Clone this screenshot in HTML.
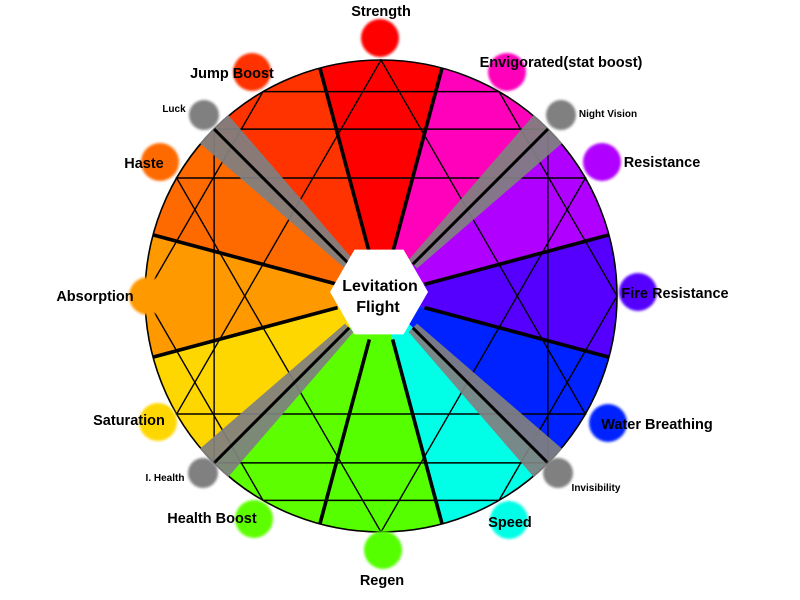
<!DOCTYPE html>
<html><head><meta charset="utf-8"><style>
html,body{margin:0;padding:0;background:#fff;width:800px;height:600px;overflow:hidden}
svg{display:block}
text{font-family:"Liberation Sans",sans-serif;fill:#000}
.lb{font-size:14.5px;font-weight:bold}
.sm{font-size:10px;font-weight:bold}
</style></head><body>
<svg id="chart" width="800" height="600" viewBox="0 0 800 600">
<defs><filter id="blur" x="-50%" y="-50%" width="200%" height="200%"><feGaussianBlur stdDeviation="1.4"/></filter>
<clipPath id="circ"><circle cx="381" cy="296" r="237"/></clipPath></defs>
<g id="sectors"></g>
<g id="grid"></g>
<g id="grays" clip-path="url(#circ)"></g>
<g id="thick"></g>
<g id="hex"></g>
<g id="dots"></g>
<g id="labels">
<text class="lb" x="381" y="16" text-anchor="middle">Strength</text>
<text class="lb" x="232" y="78" text-anchor="middle">Jump Boost</text>
<text class="sm" x="174" y="112" text-anchor="middle">Luck</text>
<text class="lb" x="144" y="168" text-anchor="middle">Haste</text>
<text class="lb" x="95" y="301" text-anchor="middle">Absorption</text>
<text class="lb" x="129" y="425" text-anchor="middle">Saturation</text>
<text class="sm" x="165" y="481" text-anchor="middle">I. Health</text>
<text class="lb" x="212" y="523" text-anchor="middle">Health Boost</text>
<text class="lb" x="382" y="585" text-anchor="middle">Regen</text>
<text class="lb" x="510" y="527" text-anchor="middle">Speed</text>
<text class="sm" x="596" y="491" text-anchor="middle">Invisibility</text>
<text class="lb" x="657" y="429" text-anchor="middle">Water Breathing</text>
<text class="lb" x="675" y="298" text-anchor="middle">Fire Resistance</text>
<text class="lb" x="662" y="167" text-anchor="middle">Resistance</text>
<text class="sm" x="608" y="117" text-anchor="middle">Night Vision</text>
<text class="lb" x="561" y="67" text-anchor="middle">Envigorated(stat boost)</text>
<text class="lb" x="380" y="291" text-anchor="middle" style="font-size:16px">Levitation</text>
<text class="lb" x="378" y="312" text-anchor="middle" style="font-size:16px">Flight</text>
</g>
</svg>
<script>
const sectorNames=["strength","envigorated","resistance","fire-resistance","water-breathing","speed","regen","health-boost","saturation","absorption","haste","jump-boost"];
const sectorStart=[255,285,315,345,15,45,75,105,135,165,195,225];
const sectorColors=["#ff0000","#ff00bb","#b000ff","#5500ff","#0022ff","#00ffe6","#55ff00","#5dff00","#ffd700","#ff9900","#ff6a00","#ff3300"];
const grayCenters=[45,135,225,315];
const thickAngles=[255,285,345,15,75,105,165,195];
const dotNames=["strength","jump-boost","luck","haste","absorption","saturation","instant-health","health-boost","regen","speed","invisibility","water-breathing","fire-resistance","resistance","night-vision","envigorated"];
const dotX=[380,252,204,160,148,158,203,254,383,509,558,608,638,602,561,507];
const dotY=[38,72,115,162,296,422,473,519,550,520,473,423,292,162,115,72];
const dotR=[19,19,15,19,19,19,15,19,19,19,15,19,19,19,15,19];
const dotColors=["#ff0000","#ff3300","#808080","#ff6a00","#ff9900","#ffd700","#808080","#5dff00","#55ff00","#00ffe6","#808080","#0022ff","#5500ff","#b000ff","#808080","#ff00bb"];
const CX=381,CY=296,R=236,NS="http://www.w3.org/2000/svg";
function P(a,r){const t=a*Math.PI/180;return [CX+r*Math.cos(t),CY+r*Math.sin(t)];}
function mk(tag,attrs,parent){const e=document.createElementNS(NS,tag);for(const k in attrs)e.setAttribute(k,attrs[k]);document.getElementById(parent).appendChild(e);return e;}
function wedge(a0,a1,r){const p0=P(a0,r),p1=P(a1,r);return `M${CX},${CY}L${p0[0]},${p0[1]}A${r},${r} 0 0 1 ${p1[0]},${p1[1]}Z`;}
sectorNames.forEach((n,i)=>{
  const e=mk("path",{d:wedge(sectorStart[i],sectorStart[i]+30,R),fill:sectorColors[i]},"sectors");
  
  
});
[[90,210,330],[270,30,150],[0,60,120,180,240,300],[45,135,225,315]].forEach((tri,i)=>{
  const pts=tri.map(a=>P(a,R).join(",")).join(" ");
  const e=mk("polygon",{points:pts,fill:"none",stroke:"#000","stroke-width":1.4},"grid");
  
  
});
const oc=mk("circle",{cx:CX,cy:CY,r:R,fill:"none",stroke:"#000","stroke-width":1.6},"grid");


grayCenters.forEach(a=>{
  const t=a*Math.PI/180,ux=Math.cos(t),uy=Math.sin(t),nx=-uy,ny=ux;
  const r0=45,r1=250,w0=6,w1=21;
  const pts=[[CX+ux*r0+nx*w0,CY+uy*r0+ny*w0],[CX+ux*r1+nx*w1,CY+uy*r1+ny*w1],[CX+ux*r1-nx*w1,CY+uy*r1-ny*w1],[CX+ux*r0-nx*w0,CY+uy*r0-ny*w0]].map(p=>p.join(",")).join(" ");
  const e=mk("polygon",{points:pts,fill:"#808080","fill-opacity":0.93},"grays");
  
  
  const p0=P(a,45),p1=P(a,R);
  const l=mk("line",{x1:p0[0],y1:p0[1],x2:p1[0],y2:p1[1],stroke:"#000","stroke-width":3},"grays");
  
  
});
thickAngles.forEach(a=>{
  const p0=P(a,45),p1=P(a,R);
  const l=mk("line",{x1:p0[0],y1:p0[1],x2:p1[0],y2:p1[1],stroke:"#000","stroke-width":3.6},"thick");
  
  
});
const hp=[0,60,120,180,240,300].map(a=>{const t=a*Math.PI/180;return (379+49*Math.cos(t))+","+(292+49*Math.sin(t));}).join(" ");
const hx=mk("polygon",{points:hp,fill:"#fff"},"hex");


dotNames.forEach((n,i)=>{
  const c=mk("circle",{cx:dotX[i],cy:dotY[i],r:dotR[i],fill:dotColors[i],filter:"url(#blur)"},"dots");
  
  
});
</script>
</body></html>
